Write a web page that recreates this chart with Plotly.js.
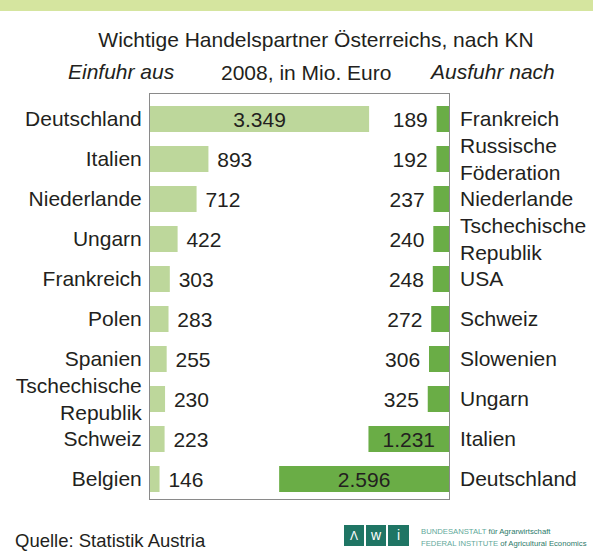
<!DOCTYPE html>
<html>
<head>
<meta charset="utf-8">
<script src="https://cdn.plot.ly/plotly-3.0.1.min.js"></script>
<style>html,body{margin:0;padding:0;background:#fff;}</style>
</head>
<body>
<div id="chart" style="width:593px;height:553px;"></div>
<script>
// Data (Mio. Euro, 2008)
const importCountries = ['Deutschland','Italien','Niederlande','Ungarn','Frankreich','Polen','Spanien','Tschechische<br>Republik','Schweiz','Belgien'];
const importValues = [3349, 893, 712, 422, 303, 283, 255, 230, 223, 146];
const exportCountries = ['Frankreich','Russische<br>Föderation','Niederlande','Tschechische<br>Republik','USA','Schweiz','Slowenien','Ungarn','Italien','Deutschland'];
const exportValues = [189, 192, 237, 240, 248, 272, 306, 325, 1231, 2596];

const fmt = v => String(v).replace(/\B(?=(\d{3})+(?!\d))/g, '.');
const NB = '\u00a0';
const FONT = '"Liberation Sans", Arial, Helvetica, sans-serif';
const TXT = '#231f20';

const W = 593, H = 553, L = 150, R = 144, T = 94, B = 54;
const pw = W - L - R, ph = H - T - B;
const px = x => (x - L) / pw;
const py = y => (H - B - y) / ph;
const XMAX = 4570;

const tImport = {
  type: 'bar', orientation: 'h',
  x: importValues, y: importCountries,
  xaxis: 'x', yaxis: 'y',
  marker: {color: '#bdd79b'},
  width: 0.65,
  text: importValues.map(v => v > 1000 ? fmt(v) : NB + fmt(v)),
  textposition: importValues.map(v => v > 1000 ? 'inside' : 'outside'),
  insidetextanchor: 'middle',
  constraintext: 'none',
  textfont: {family: FONT, size: 21, color: TXT},
  insidetextfont: {family: FONT, size: 21, color: TXT},
  outsidetextfont: {family: FONT, size: 21, color: TXT},
  cliponaxis: false,
  hoverinfo: 'none'
};
const tExport = {
  type: 'bar', orientation: 'h',
  x: exportValues, y: exportCountries,
  xaxis: 'x2', yaxis: 'y2',
  marker: {color: '#6aad46'},
  width: 0.65,
  text: exportValues.map(v => v > 1000 ? fmt(v) : fmt(v) + NB),
  textposition: exportValues.map(v => v > 1000 ? 'inside' : 'outside'),
  insidetextanchor: 'middle',
  constraintext: 'none',
  textfont: {family: FONT, size: 21, color: TXT},
  insidetextfont: {family: FONT, size: 21, color: TXT},
  outsidetextfont: {family: FONT, size: 21, color: TXT},
  cliponaxis: false,
  hoverinfo: 'none'
};

const tealL = '#5fa99a', tealD = '#2b7a69';
const layout = {
  width: W, height: H,
  margin: {l: L, r: R, t: T, b: B, pad: 0},
  paper_bgcolor: '#fff', plot_bgcolor: '#fff',
  showlegend: false,
  separators: ',.',
  font: {family: FONT, color: TXT},
  title: {
    text: 'Wichtige Handelspartner Österreichs, nach KN',
    font: {family: FONT, size: 21, color: TXT},
    x: 316 / W, xanchor: 'center', xref: 'container',
    y: 1 - 40 / H, yanchor: 'middle', yref: 'container'
  },
  xaxis: {
    range: [0, XMAX], showgrid: false, zeroline: false, showticklabels: false, ticks: '',
    showline: true, mirror: true, linecolor: '#8a8a8a', linewidth: 1, fixedrange: true
  },
  xaxis2: {
    overlaying: 'x', range: [XMAX, 0], visible: false, fixedrange: true
  },
  yaxis: {
    type: 'category', categoryorder: 'array', categoryarray: importCountries,
    range: [9.5, -0.625], showgrid: false, zeroline: false, ticks: '',
    showline: true, mirror: true, linecolor: '#8a8a8a', linewidth: 1,
    tickfont: {family: FONT, size: 21, color: TXT}, ticklabelstandoff: 3, fixedrange: true
  },
  yaxis2: {
    type: 'category', categoryorder: 'array', categoryarray: exportCountries,
    overlaying: 'y', side: 'right', anchor: 'x',
    range: [9.5, -0.625], showgrid: false, zeroline: false, ticks: '', showline: false,
    tickfont: {family: FONT, size: 21, color: TXT}, ticklabelstandoff: 10, fixedrange: true
  },
  shapes: [
    {type: 'rect', xref: 'paper', yref: 'paper', x0: px(-5), x1: px(W + 5), y0: py(11), y1: py(-5),
     fillcolor: '#d5e59f', line: {width: 0}, layer: 'above'},
    {type: 'rect', xref: 'paper', yref: 'paper', x0: px(344), x1: px(364), y0: py(546), y1: py(525),
     fillcolor: '#1f7564', line: {width: 0}},
    {type: 'rect', xref: 'paper', yref: 'paper', x0: px(366), x1: px(386), y0: py(546), y1: py(525),
     fillcolor: '#1f7564', line: {width: 0}},
    {type: 'rect', xref: 'paper', yref: 'paper', x0: px(388), x1: px(409), y0: py(546), y1: py(525),
     fillcolor: '#1f7564', line: {width: 0}}
  ],
  annotations: [
    {text: '<i>Einfuhr aus</i>', xref: 'paper', yref: 'paper', x: px(66), y: py(71),
     xanchor: 'left', yanchor: 'middle', showarrow: false, font: {family: FONT, size: 21, color: TXT}},
    {text: '2008, in Mio. Euro', xref: 'paper', yref: 'paper', x: px(306), y: py(72),
     xanchor: 'center', yanchor: 'middle', showarrow: false, font: {family: FONT, size: 21, color: TXT}},
    {text: '<i>Ausfuhr nach</i>', xref: 'paper', yref: 'paper', x: px(557), y: py(71),
     xanchor: 'right', yanchor: 'middle', showarrow: false, font: {family: FONT, size: 21, color: TXT}},
    {text: 'Quelle: Statistik Austria', xref: 'paper', yref: 'paper', x: px(13), y: py(540),
     xanchor: 'left', yanchor: 'middle', showarrow: false, font: {family: FONT, size: 18.5, color: TXT}},
    {text: 'Λ', xref: 'paper', yref: 'paper', x: px(354), y: py(535.5),
     xanchor: 'center', yanchor: 'middle', showarrow: false, font: {family: FONT, size: 12, color: '#fff'}},
    {text: 'w', xref: 'paper', yref: 'paper', x: px(376), y: py(535),
     xanchor: 'center', yanchor: 'middle', showarrow: false, font: {family: FONT, size: 14, color: '#fff'}},
    {text: 'i', xref: 'paper', yref: 'paper', x: px(398.5), y: py(535),
     xanchor: 'center', yanchor: 'middle', showarrow: false, font: {family: FONT, size: 14, color: '#fff'}},
    {text: '<span style="color:' + tealL + '">BUNDESANSTALT</span> <span style="color:' + tealD + '">für Agrarwirtschaft</span>',
     xref: 'paper', yref: 'paper', x: px(419), y: py(531.5),
     xanchor: 'left', yanchor: 'middle', showarrow: false, font: {family: FONT, size: 7.7, color: tealD}},
    {text: '<span style="color:' + tealL + '">FEDERAL INSTITUTE</span> <span style="color:' + tealD + '">of Agricultural Economics</span>',
     xref: 'paper', yref: 'paper', x: px(419), y: py(543),
     xanchor: 'left', yanchor: 'middle', showarrow: false, font: {family: FONT, size: 7.7, color: tealD}}
  ]
};

Plotly.newPlot('chart', [tImport, tExport], layout, {displayModeBar: false, staticPlot: true});
</script>
</body>
</html>
